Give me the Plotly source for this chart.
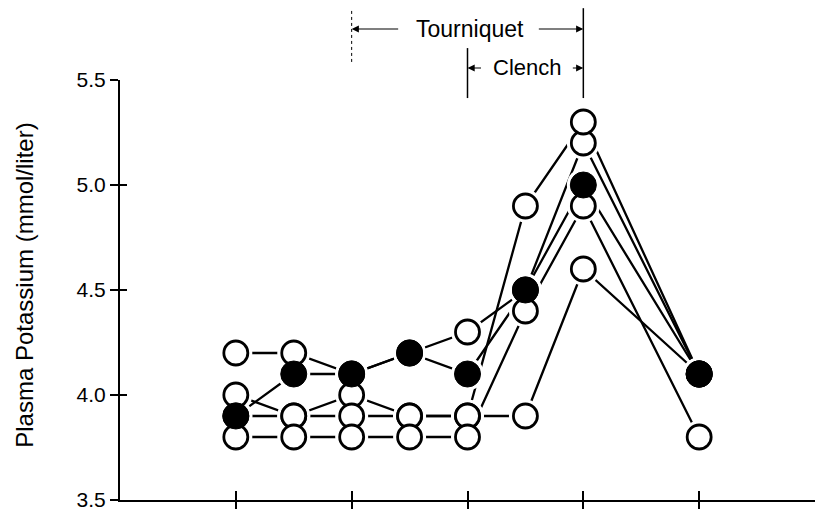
import plotly.graph_objects as go

# ---- data ----
times = [1, 1.5, 2, 2.5, 3, 3.5, 4, 5]
subject_1 = [4.2, 4.2, 4.1, 4.2, 4.3, 4.5, 5.2, 4.1]
subject_2 = [4.0, 3.9, 4.0, 3.9, 3.9, 4.9, 5.3, 4.1]
subject_3 = [3.9, 3.9, 3.9, 3.9, 3.9, 3.9, 4.6, 4.1]
subject_4 = [3.8, 3.8, 3.8, 3.8, 3.8, 4.4, 4.9, 3.8]
mean_values = [3.9, 4.1, 4.1, 4.2, 4.1, 4.5, 5.0, 4.1]
subjects = [subject_1, subject_2, subject_3, subject_4]

y_ticks = [3.5, 4.0, 4.5, 5.0, 5.5]
y_ticktext = ["3.5", "4.0", "4.5", "5.0", "5.5"]
x_ticks = [1, 2, 3, 4, 5]
y_title = "Plasma Potassium (mmol/liter)"
tourniquet = dict(start=2, end=4, label="Tourniquet")
clench = dict(start=3, end=4, label="Clench")

FONT = "Liberation Sans, Arial, Helvetica, sans-serif"
fig = go.Figure()

all_series = subjects + [mean_values]
# connecting lines
for s in all_series:
    fig.add_trace(go.Scatter(x=times, y=s, mode="lines",
                             line=dict(color="black", width=2.3),
                             hoverinfo="skip", showlegend=False))
# white halos (gap between lines and circles)
for s in all_series:
    fig.add_trace(go.Scatter(x=times, y=s, mode="markers",
                             marker=dict(size=33, color="white", line=dict(width=0)),
                             hoverinfo="skip", showlegend=False))
# open circles
for s in subjects:
    fig.add_trace(go.Scatter(x=times, y=s, mode="markers",
                             marker=dict(size=24, color="white",
                                         line=dict(color="black", width=2.8)),
                             showlegend=False))
# filled circles
fig.add_trace(go.Scatter(x=times, y=mean_values, mode="markers",
                         marker=dict(size=26, color="black",
                                     line=dict(color="black", width=1)),
                         showlegend=False))
# dummy trace for overlay axes (inside tick halves)
fig.add_trace(go.Scatter(x=[None], y=[None], xaxis="x2", yaxis="y2",
                         mode="markers", showlegend=False, hoverinfo="skip"))

axis_common = dict(showgrid=False, zeroline=False, color="black",
                   tickwidth=2, tickcolor="black")
fig.update_layout(
    width=815, height=512,
    margin=dict(l=120, r=0, t=80, b=12),
    paper_bgcolor="white", plot_bgcolor="white",
    font=dict(family=FONT, color="black", size=22),
    xaxis=dict(range=[0, 6], tickvals=x_ticks, ticks="outside", ticklen=7,
               showticklabels=False, showline=True, linewidth=2,
               linecolor="black", **axis_common),
    yaxis=dict(range=[3.5, 5.5], tickvals=y_ticks, ticktext=y_ticktext,
               ticks="outside", ticklen=8, showline=True, linewidth=2,
               linecolor="black", tickfont=dict(size=21, family=FONT),
               ticklabeloverflow="allow", **axis_common),
    xaxis2=dict(range=[0, 6], overlaying="x", anchor="y2", tickvals=x_ticks,
                ticks="inside", ticklen=9, showticklabels=False,
                showline=False, **axis_common),
    yaxis2=dict(range=[3.5, 5.5], overlaying="y", anchor="x2", side="left",
                tickvals=y_ticks, ticks="inside", ticklen=7,
                showticklabels=False, showline=False, **axis_common),
)

# y axis title
fig.add_annotation(text=y_title, xref="paper", yref="paper",
                   x=-0.137, y=0.512, xanchor="center", yanchor="middle",
                   textangle=-90, showarrow=False,
                   font=dict(size=24, family=FONT))

# bracket verticals
fig.add_shape(type="line", xref="x", yref="paper",
              x0=tourniquet["start"], x1=tourniquet["start"], y0=1.043, y1=1.171,
              line=dict(color="black", width=1, dash="dot"))
fig.add_shape(type="line", xref="x", yref="paper",
              x0=tourniquet["end"], x1=tourniquet["end"], y0=0.957, y1=1.171,
              line=dict(color="black", width=1.5))
fig.add_shape(type="line", xref="x", yref="paper",
              x0=clench["start"], x1=clench["start"], y0=0.957, y1=1.076,
              line=dict(color="black", width=1.5))

arrow_style = dict(showarrow=True, arrowhead=2, arrowsize=1.2, arrowwidth=1.2,
                   arrowcolor="black", text="", xref="x", yref="paper", ay=0)
# tourniquet arrows
fig.add_annotation(x=tourniquet["start"], y=1.1214, ax=48, **arrow_style)
fig.add_annotation(x=tourniquet["end"], y=1.1214, ax=-46, **arrow_style)
fig.add_annotation(text=tourniquet["label"], x=3.02, y=1.1214, xref="x",
                   yref="paper", showarrow=False, xanchor="center",
                   yanchor="middle", font=dict(size=23, family=FONT))
# clench arrows
fig.add_annotation(x=clench["start"], y=1.0286, ax=15, **arrow_style)
fig.add_annotation(x=clench["end"], y=1.0286, ax=-12, **arrow_style)
fig.add_annotation(text=clench["label"], x=3.515, y=1.0286, xref="x",
                   yref="paper", showarrow=False, xanchor="center",
                   yanchor="middle", font=dict(size=22, family=FONT))

fig.write_html("out.html")
